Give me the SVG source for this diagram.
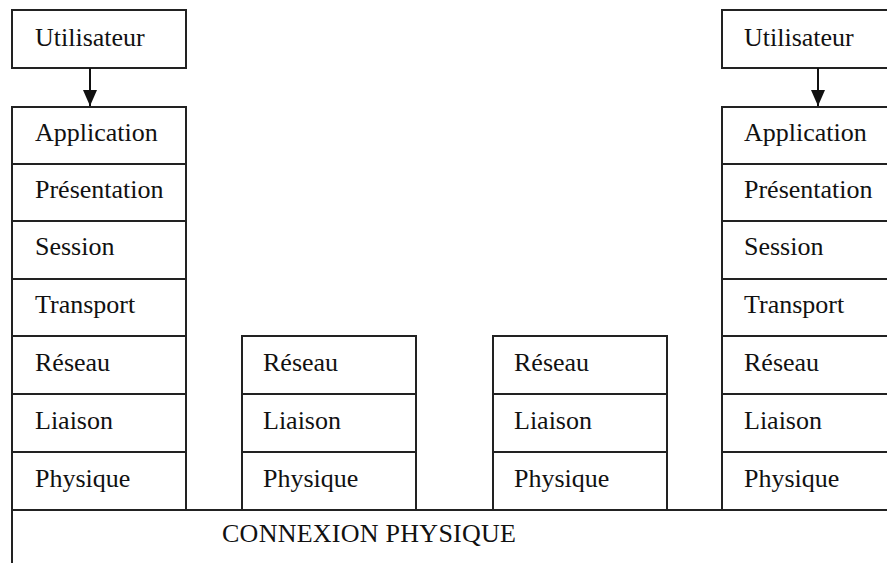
<svg xmlns="http://www.w3.org/2000/svg" width="887" height="563" viewBox="0 0 887 563">
  <style>
    .box { fill: #ffffff; stroke: #222222; stroke-width: 2; }
    .lbl { font-family: "Liberation Serif", "Times New Roman", serif; font-size: 26px; fill: #111111; }
    .link { stroke: #111111; stroke-width: 2; fill: none; }
  </style>
  <defs>
    <marker id="arrow" viewBox="0 0 16 14" refX="16" refY="7" markerWidth="16" markerHeight="14" markerUnits="userSpaceOnUse" orient="auto">
      <path d="M0,0 L16,7 L0,14 Z" fill="#111111"/>
    </marker>
  </defs>
  <rect width="887" height="563" fill="#ffffff"/>

  <!-- physical medium spanning the bottom -->
  <g id="connexion">
    <rect class="box" x="12" y="510" width="900" height="80"/>
    <text class="lbl" x="222" y="542" textLength="294" lengthAdjust="spacing">CONNEXION PHYSIQUE</text>
  </g>

  <!-- end host A -->
  <g id="userA">
    <rect class="box" x="12" y="10" width="174" height="58"/>
    <text class="lbl" x="35" y="46">Utilisateur</text>
  </g>
  <g id="stackA">
    <rect class="box" x="12" y="107" width="174" height="57"/>
    <text class="lbl" x="35" y="141">Application</text>
    <rect class="box" x="12" y="164" width="174" height="57"/>
    <text class="lbl" x="35" y="198">Présentation</text>
    <rect class="box" x="12" y="221" width="174" height="58"/>
    <text class="lbl" x="35" y="255">Session</text>
    <rect class="box" x="12" y="279" width="174" height="57"/>
    <text class="lbl" x="35" y="313">Transport</text>
    <rect class="box" x="12" y="336" width="174" height="58"/>
    <text class="lbl" x="35" y="371">Réseau</text>
    <rect class="box" x="12" y="394" width="174" height="58"/>
    <text class="lbl" x="35" y="429">Liaison</text>
    <rect class="box" x="12" y="452" width="174" height="58"/>
    <text class="lbl" x="35" y="487">Physique</text>
  </g>

  <!-- intermediate node 1 -->
  <g id="relay1">
    <rect class="box" x="242" y="336" width="174" height="58"/>
    <text class="lbl" x="263" y="371">Réseau</text>
    <rect class="box" x="242" y="394" width="174" height="58"/>
    <text class="lbl" x="263" y="429">Liaison</text>
    <rect class="box" x="242" y="452" width="174" height="58"/>
    <text class="lbl" x="263" y="487">Physique</text>
  </g>

  <!-- intermediate node 2 -->
  <g id="relay2">
    <rect class="box" x="493" y="336" width="174" height="58"/>
    <text class="lbl" x="514" y="371">Réseau</text>
    <rect class="box" x="493" y="394" width="174" height="58"/>
    <text class="lbl" x="514" y="429">Liaison</text>
    <rect class="box" x="493" y="452" width="174" height="58"/>
    <text class="lbl" x="514" y="487">Physique</text>
  </g>

  <!-- end host B -->
  <g id="userB">
    <rect class="box" x="722" y="10" width="174" height="58"/>
    <text class="lbl" x="744" y="46">Utilisateur</text>
  </g>
  <g id="stackB">
    <rect class="box" x="722" y="107" width="174" height="57"/>
    <text class="lbl" x="744" y="141">Application</text>
    <rect class="box" x="722" y="164" width="174" height="57"/>
    <text class="lbl" x="744" y="198">Présentation</text>
    <rect class="box" x="722" y="221" width="174" height="58"/>
    <text class="lbl" x="744" y="255">Session</text>
    <rect class="box" x="722" y="279" width="174" height="57"/>
    <text class="lbl" x="744" y="313">Transport</text>
    <rect class="box" x="722" y="336" width="174" height="58"/>
    <text class="lbl" x="744" y="371">Réseau</text>
    <rect class="box" x="722" y="394" width="174" height="58"/>
    <text class="lbl" x="744" y="429">Liaison</text>
    <rect class="box" x="722" y="452" width="174" height="58"/>
    <text class="lbl" x="744" y="487">Physique</text>
  </g>

  <g id="connectors">
    <line class="link" x1="90" y1="68" x2="90" y2="106" marker-end="url(#arrow)"/>
    <line class="link" x1="818" y1="68" x2="818" y2="106" marker-end="url(#arrow)"/>
  </g>
</svg>
